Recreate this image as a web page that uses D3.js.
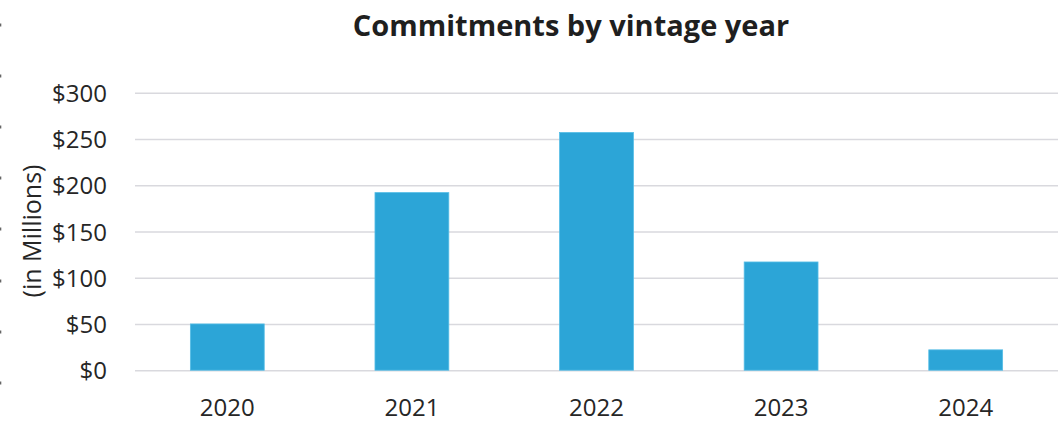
<!DOCTYPE html>
<html>
<head>
<meta charset="utf-8">
<script src="https://cdn.jsdelivr.net/npm/d3@7"></script>
<style>
  html, body { margin: 0; padding: 0; background: #fff; }
  svg { display: block; font-family: "Open Sans", "Noto Sans", sans-serif; }
</style>
</head>
<body>
<svg id="chart" width="1059" height="422"></svg>
<script>
const categories = ["2020", "2021", "2022", "2023", "2024"];
const values = [50, 192, 257, 117, 22];
const yTicks = [0, 50, 100, 150, 200, 250, 300];
const title = "Commitments by vintage year";
const yAxisTitle = "(in Millions)";
const edgeMarks = [25, 76, 127, 178, 229, 281, 332, 383];

const svg = d3.select("#chart");
const margin = { left: 135, right: 1, top: 92.7, bottom: 370.2 };

const x = d3.scaleBand()
  .domain(categories)
  .range([margin.left, 1059 - margin.right])
  .paddingInner(0.6)
  .paddingOuter(0.3);

const y = d3.scaleLinear()
  .domain([0, 300])
  .range([margin.bottom, margin.top]);

// left edge marks
svg.append("g").selectAll("rect").data(edgeMarks).join("rect")
  .attr("x", 0).attr("y", d => d - 1.5).attr("width", 1.3).attr("height", 3)
  .attr("fill", "#666");

// Title
svg.append("text")
  .attr("x", 571).attr("y", 36)
  .attr("text-anchor", "middle")
  .attr("font-size", 29).attr("font-weight", "bold")
  .attr("fill", "#1f1f1f")
  .text(title);

// Gridlines + y labels
const yAxis = d3.axisLeft(y).tickValues(yTicks)
  .tickSize(-(1059 - margin.right - margin.left))
  .tickPadding(28)
  .tickFormat(d => "$" + d);
const gy = svg.append("g")
  .attr("transform", `translate(${margin.left},0)`)
  .call(yAxis);
gy.select(".domain").remove();
gy.selectAll(".tick line").attr("stroke", "#d9d9de").attr("stroke-width", 1.6);
gy.selectAll(".tick text")
  .attr("font-size", 24).attr("fill", "#262626")
  .attr("font-family", "'Open Sans', 'Noto Sans', sans-serif")
  .attr("dy", "0.36em");

// Y axis title
svg.append("text")
  .attr("transform", `translate(41,${231}) rotate(-90)`)
  .attr("text-anchor", "middle")
  .attr("font-size", 25).attr("fill", "#262626")
  .text(yAxisTitle);

// Bars
svg.append("g").selectAll("rect").data(values).join("rect")
  .attr("x", (d, i) => x(categories[i]))
  .attr("y", d => y(d))
  .attr("width", x.bandwidth())
  .attr("height", d => y(0) - y(d))
  .attr("fill", "#2ca5d7")
  .attr("stroke", "#55bde6")
  .attr("stroke-width", 0.8);

// X labels
const xAxis = d3.axisBottom(x).tickSize(0).tickPadding(0);
const gx = svg.append("g")
  .attr("transform", `translate(0,${y(0)})`)
  .call(xAxis);
gx.select(".domain").remove();
gx.selectAll(".tick text")
  .attr("font-size", 24).attr("fill", "#262626")
  .attr("font-family", "'Open Sans', 'Noto Sans', sans-serif")
  .attr("dy", 0).attr("y", 46);
</script>
</body>
</html>
